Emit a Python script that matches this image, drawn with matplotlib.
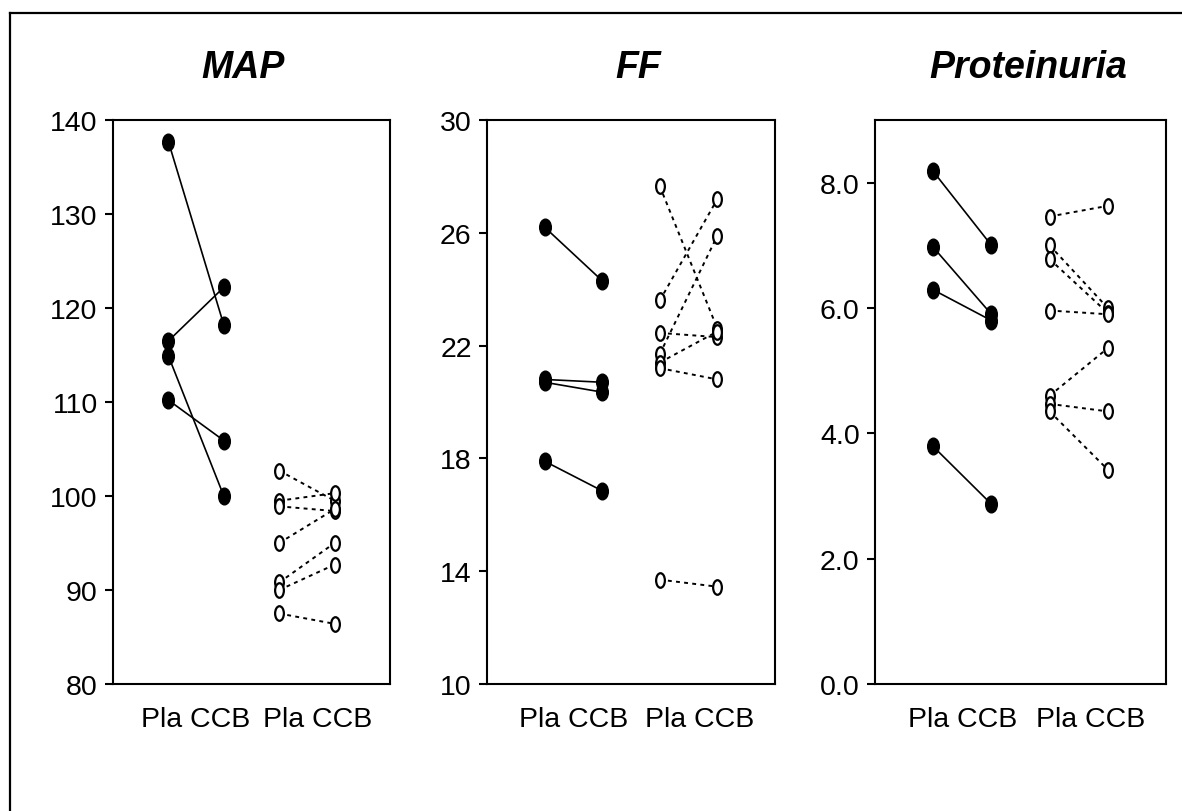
import matplotlib
matplotlib.use("Agg")
import matplotlib.pyplot as plt
from matplotlib.path import Path
from matplotlib.lines import Line2D
import numpy as np

plt.rcParams['font.family'] = ['Liberation Sans', 'DejaVu Sans']

titles = ['MAP', 'FF', 'Proteinuria']
group_labels = ['Pla CCB', 'Pla CCB']

# filled group (Pla -> CCB)
map_pla_filled = [137.7, 116.5, 114.9, 110.2]
map_ccb_filled = [118.2, 122.2, 100.0, 105.9]
# open group (Pla -> CCB)
map_pla_open = [102.7, 99.5, 98.9, 95.0, 90.8, 90.0, 87.5]
map_ccb_open = [99.5, 100.3, 98.4, 98.6, 95.0, 92.7, 86.4]

ff_pla_filled = [26.2, 20.8, 20.7, 17.9]
ff_ccb_filled = [24.3, 20.7, 20.35, 16.85]
ff_pla_open = [27.65, 23.6, 22.45, 21.7, 21.4, 21.2, 13.7]
ff_ccb_open = [22.6, 27.2, 22.3, 25.9, 22.5, 20.8, 13.45]

prot_pla_filled = [8.18, 6.97, 6.29, 3.79]
prot_ccb_filled = [7.0, 5.9, 5.8, 2.87]
prot_pla_open = [7.46, 7.0, 6.78, 5.96, 4.6, 4.47, 4.35]
prot_ccb_open = [7.63, 6.0, 5.92, 5.9, 5.36, 4.35, 3.42]

map_ticks = [80, 90, 100, 110, 120, 130, 140]
ff_ticks = [10, 14, 18, 22, 26, 30]
prot_ticks = [0.0, 2.0, 4.0, 6.0, 8.0]

panels = [
    (map_pla_filled, map_ccb_filled, map_pla_open, map_ccb_open, map_ticks, (80, 140), '%d'),
    (ff_pla_filled, ff_ccb_filled, ff_pla_open, ff_ccb_open, ff_ticks, (10, 30), '%d'),
    (prot_pla_filled, prot_ccb_filled, prot_pla_open, prot_ccb_open, prot_ticks, (0, 9), '%.1f'),
]

W, H = 1182, 812
fig = plt.figure(figsize=(W / 100, H / 100), dpi=100)

# axes boxes in pixels (left, right)
boxes = [(113, 390), (487, 775), (875, 1166)]
top_px, bot_px = 121, 685
title_x = [243, 638, 1028]


def ellipse(rx):
    c = Path.unit_circle()
    return Path(c.vertices * np.array([rx, 1.0]), c.codes)


filled_marker = ellipse(0.7)
open_marker = ellipse(0.6)

for i, (pf, cf, po, co, ticks, ylim, fmt) in enumerate(panels):
    l, r = boxes[i]
    ax = fig.add_axes((l / W, 1 - bot_px / H, (r - l) / W, (bot_px - top_px) / H))
    ax.set_xlim(0, 5)
    ax.set_ylim(*ylim)

    for a, b in zip(pf, cf):
        ax.plot([1, 2], [a, b], color='black', lw=1.2, zorder=2)
    ax.plot([1] * len(pf), pf, ls='none', marker=filled_marker, ms=12,
            mfc='black', mec='black', zorder=3)
    ax.plot([2] * len(cf), cf, ls='none', marker=filled_marker, ms=12,
            mfc='black', mec='black', zorder=3)

    for a, b in zip(po, co):
        ax.plot([3, 4], [a, b], color='black', lw=1.4, ls=(0, (2, 2.2)), zorder=2)
    ax.plot([3] * len(po), po, ls='none', marker=open_marker, ms=10.5,
            mfc='white', mec='black', mew=1.6, zorder=3)
    ax.plot([4] * len(co), co, ls='none', marker=open_marker, ms=10.5,
            mfc='white', mec='black', mew=1.6, zorder=3)

    ax.set_yticks(ticks)
    ax.set_yticklabels([fmt % t for t in ticks])
    ax.set_xticks([1.5, 3.7])
    ax.set_xticklabels(group_labels)
    ax.tick_params(axis='x', length=0, pad=16, labelsize=20.5)
    ax.tick_params(axis='y', length=6, width=1.5, pad=5, labelsize=20.5, direction='out')
    for s in ax.spines.values():
        s.set_linewidth(1.5)
        s.set_color('black')

    fig.text(title_x[i] / W, 1 - 78 / H, titles[i], ha='center', va='baseline',
             fontsize=27, fontweight='bold', fontstyle='italic')

# outer frame (top and left edges visible)
fig.add_artist(Line2D([10 / W, 10 / W], [0, 1 - 14 / H], color='black', lw=1.6))
fig.add_artist(Line2D([10 / W, 1], [1 - 14 / H, 1 - 14 / H], color='black', lw=1.6))

fig.savefig('out.png', dpi=100)
